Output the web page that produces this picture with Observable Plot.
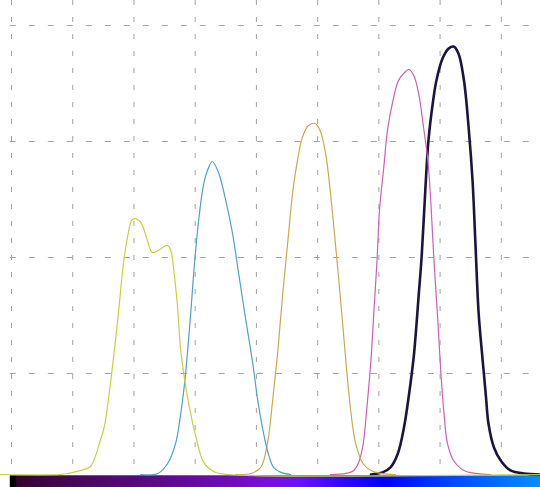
<!DOCTYPE html>
<html>
<head>
<meta charset="utf-8">
<script src="https://cdn.jsdelivr.net/npm/d3@7"></script>
<script src="https://cdn.jsdelivr.net/npm/@observablehq/plot@0.6"></script>
<style>
  html, body { margin: 0; padding: 0; background: #ffffff; }
  #chart svg { display: block; background: #ffffff; }
</style>
</head>
<body>
<div id="chart"></div>
<script>
// Wavelength (nm) and detector counts
const xTicks = [360, 370, 380, 390, 400, 410, 420, 430, 440];
const yTicks = [1000, 2000, 3000, 4000];

const peak1 = [
  [358.2,129],[368.0,129],[369.3,138],[371.3,164],[372.9,198],[374.5,422],[375.2,552],
  [375.8,767],[376.7,1155],[377.5,1543],[378.3,1957],[379.1,2216],[379.6,2319],[380.1,2336],
  [381.1,2302],[382.2,2147],[383.0,2043],[384.0,2060],[385.2,2103],[385.7,2095],[386.1,2043],
  [386.6,1845],[387.1,1586],[387.6,1216],[388.1,1009],[388.9,750],[390.1,457],[391.4,233],
  [393.0,155],[395.3,129],[446.4,129]
];
const peak2 = [
  [381.1,129],[383.9,138],[385.5,224],[386.8,397],[387.6,638],[388.4,983],[389.2,1474],
  [389.9,1957],[390.6,2336],[391.4,2638],[392.2,2776],[392.8,2828],[393.8,2733],[395.0,2491],
  [396.1,2207],[397.1,1862],[398.2,1483],[399.4,1086],[400.4,707],[401.8,336],[402.8,190],
  [404.0,147],[405.6,129]
];
const peak3 = [
  [396.6,129],[399.1,138],[400.7,190],[401.8,397],[402.6,741],[403.5,1198],[404.3,1690],
  [405.1,2121],[405.9,2552],[406.7,2836],[407.5,3034],[408.5,3138],[409.6,3155],[410.4,3095],
  [411.3,2897],[412.1,2552],[412.9,2121],[413.8,1603],[414.6,1112],[415.4,681],[416.2,397],
  [417.4,224],[418.7,164],[420.3,138],[422.7,129]
];
const peak4 = [
  [412.1,129],[414.6,138],[415.9,164],[416.7,233],[417.4,379],[418.0,681],[418.7,1112],
  [419.2,1543],[419.7,1974],[420.1,2405],[420.8,2776],[421.4,3095],[422.3,3353],[423.2,3526],
  [424.2,3595],[424.9,3621],[425.7,3569],[426.5,3414],[427.3,3121],[428.0,2836],[428.5,2466],
  [429.0,1974],[429.6,1483],[430.1,1026],[430.6,681],[431.2,397],[432.2,250],[433.9,164],
  [435.8,138],[438.3,129]
];
const peak5 = [
  [418.7,129],[420.6,147],[421.9,190],[423.1,310],[424.1,534],[424.9,810],[425.7,1147],
  [426.5,1672],[427.0,2017],[427.6,2595],[428.1,3009],[428.8,3328],[429.4,3526],[430.4,3716],
  [431.4,3802],[432.2,3819],[433.0,3759],[433.9,3526],[434.7,3095],[435.3,2664],[435.8,2086],
  [436.3,1517],[437.0,1086],[437.5,793],[437.9,569],[438.8,362],[439.9,250],[441.5,164],
  [443.7,138],[446.4,129]
];
const seriesNames = ["peak5", "peak4", "peak3", "peak2", "peak1"];
const seriesData = [peak5, peak4, peak3, peak2, peak1];
const seriesColors = ["#1c1440", "#cc60b2", "#c9aa4c", "#4ca2c2", "#c8cf3c"];
const seriesWidths = [2.6, 1.2, 1.2, 1.2, 1.2];

// Spectrum colour bar under the plot
const barStops = [
  {nm: 359.8, color: "#000000"}, {nm: 360.8, color: "#000000"}, {nm: 360.9, color: "#340330"},
  {nm: 372, color: "#4a0760"}, {nm: 385, color: "#5e0a8c"}, {nm: 396, color: "#700cbc"},
  {nm: 402, color: "#7a10e0"}, {nm: 407, color: "#6c10ff"}, {nm: 414, color: "#3008ff"},
  {nm: 421, color: "#0000ff"}, {nm: 432, color: "#0048ff"}, {nm: 446.4, color: "#0a8eff"}
];
const bar = [{x1: 359.8, x2: 446.4, y1: 17, y2: 118}];

const rows = [];
seriesData.forEach((s, i) => s.forEach(([nm, c]) => rows.push({series: seriesNames[i], nm, counts: c})));

const marks = [
  Plot.ruleX(xTicks, {stroke: "#a2a2a2", strokeWidth: 1, strokeDasharray: "5,12"}),
  Plot.ruleY(yTicks, {x1: 359.8, x2: 446.4, stroke: "#a2a2a2", strokeWidth: 1, strokeDasharray: "6,13"}),
  Plot.rect(bar, {x1: "x1", x2: "x2", y1: "y1", y2: "y2", fill: "url(#spectrumGrad)"})
];
seriesNames.forEach((name, i) => {
  marks.push(Plot.line(rows.filter(d => d.series === name), {
    x: "nm", y: "counts", stroke: seriesColors[i], strokeWidth: seriesWidths[i],
    curve: "catmull-rom"
  }));
});

const chart = Plot.plot({
  width: 540,
  height: 487,
  marginLeft: 0,
  marginRight: 0,
  marginTop: 0,
  marginBottom: 13,
  style: {background: "#ffffff"},
  x: {domain: [358.2, 446.4], axis: null},
  y: {domain: [129, 4216], axis: null},
  marks
});

const xs = chart.scale("x");
const svg = d3.select(chart);
const grad = svg.insert("defs", ":first-child").append("linearGradient")
  .attr("id", "spectrumGrad")
  .attr("gradientUnits", "userSpaceOnUse")
  .attr("x1", xs.apply(barStops[0].nm)).attr("x2", xs.apply(barStops[barStops.length - 1].nm))
  .attr("y1", 0).attr("y2", 0);
const span = barStops[barStops.length - 1].nm - barStops[0].nm;
barStops.forEach(s => grad.append("stop")
  .attr("offset", ((s.nm - barStops[0].nm) / span))
  .attr("stop-color", s.color));

document.getElementById("chart").appendChild(chart);
</script>
</body>
</html>
